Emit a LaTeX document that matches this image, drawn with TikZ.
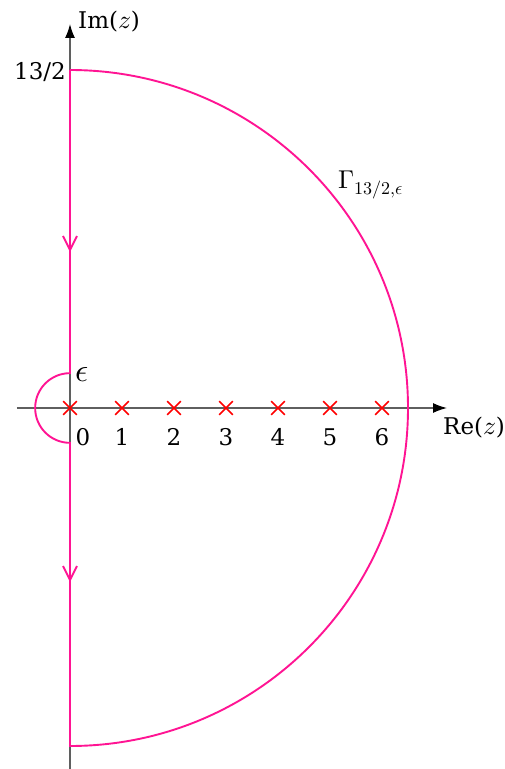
\documentclass[tikz,border=0pt]{standalone}
\usepackage{fontspec}
\usepackage{unicode-math}
\setmainfont{DejaVu Serif}
\setmathfont{Latin Modern Math}[Scale=1.12]
\usetikzlibrary{arrows.meta,shapes.misc}
\definecolor{contour}{RGB}{255,20,147}
\definecolor{axisgray}{RGB}{95,95,95}
\begin{document}
\begin{tikzpicture}[x=52pt,y=52pt,
  font=\fontsize{23}{28}\selectfont,
  axis/.style={draw=axisgray, line width=1.3pt},
  cont/.style={draw=contour, line width=1.9pt},
  pole/.style={cross out, draw=red, line width=1.6pt, minimum size=12pt, inner sep=0pt},
  lab/.style={inner sep=0pt}]
\useasboundingbox (-70pt,-361pt) rectangle (434pt,408pt);
% axes
\coordinate (xs) at (-53pt,0);
\coordinate (xe) at (377pt,0);
\coordinate (ys) at (0,-362pt);
\coordinate (ye) at (0,384pt);
\draw[axis,-{Latex[length=14pt,width=10pt,color=black]}] (xs) -- (xe);
\draw[axis,-{Latex[length=14pt,width=10pt,color=black]}] (ys) -- (ye);
% contour
\coordinate (top) at (0,6.5);
\coordinate (bot) at (0,-6.5);
\coordinate (ep) at (0,0.67);
\coordinate (em) at (0,-0.67);
\draw[cont] (top) -- (ep) arc[start angle=90,end angle=270,radius=0.67] -- (bot)
  arc[start angle=-90,end angle=90,radius=6.5];
% direction marks
\coordinate (a1) at (0,158pt);
\coordinate (a2) at (0,-172pt);
\draw[cont] (a1) ++(-7pt,14pt) -- (a1) -- ++(7pt,14pt);
\draw[cont] (a2) ++(-7pt,14pt) -- (a2) -- ++(7pt,14pt);
% poles
\foreach \i in {0,...,6} { \node[pole] (p\i) at (\i,0) {}; }
\node[lab] (l0) at (13pt,-29pt) {0};
\foreach \i in {1,...,6} { \node[lab] (l\i) at (\i,-29pt) {\i}; }
% labels
\node[lab,anchor=east] (r) at (-4pt,336pt) {13/2};
\node[lab,anchor=west] (im) at (8pt,386pt) {Im($z$)};
\node[lab,anchor=west] (re) at (373pt,-20pt) {Re($z$)};
\node[lab,font=\fontsize{29}{32}\selectfont] (eps) at (12pt,33pt) {$\epsilon$};
\node[lab,anchor=west] (gam) at (268pt,223pt) {$\Gamma_{13/2,\epsilon}$};
\end{tikzpicture}
\end{document}
